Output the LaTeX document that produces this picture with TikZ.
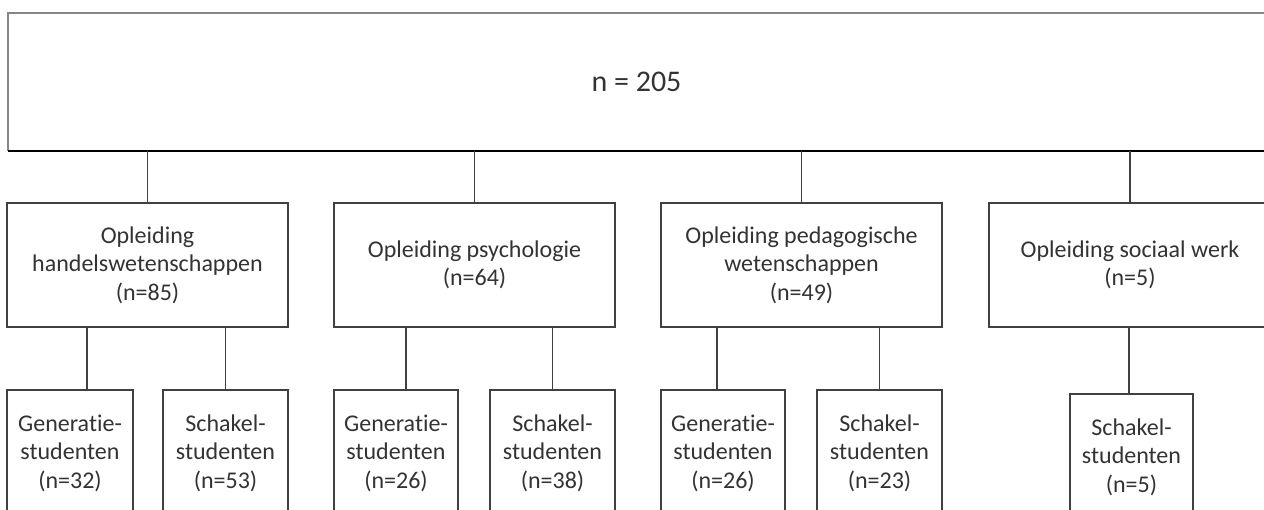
\documentclass[tikz,border=0pt]{standalone}
\usepackage{fontspec}
\setmainfont[Ligatures=NoCommon]{Carlito}
\begin{document}
\begin{tikzpicture}[x=1pt,y=-1pt,
  every node/.style={inner sep=0pt,outer sep=0pt},
  box/.style={draw=boxgray,line width=1.8pt,fill=white,anchor=north west,
    align=center,text=txtgray,font=\fontsize{24}{28.5}\selectfont},
  link/.style={draw=boxgray,line width=1.8pt},
  topedge/.style={draw=gray!95,line width=2.8pt},
]
\definecolor{boxgray}{HTML}{404040}
\definecolor{txtgray}{HTML}{333333}
\useasboundingbox (0,0) rectangle (1264,510);
\fill[white] (0,0) rectangle (1264,510);

% total sample
\node[anchor=north west,minimum width=1257pt,minimum height=138pt,
  text=txtgray,font=\fontsize{30}{36}\selectfont] (top) at (8,13) {n = 205};
\draw[topedge] (top.south west) |- (top.north east);
\draw[black,line width=1.8pt] (top.south west) -- (top.south east);

% programmes
\node[box,minimum width=281pt,minimum height=124pt] (h) at (7,203)
  {Opleiding\\handelswetenschappen\\(n=85)};
\node[box,minimum width=281pt,minimum height=124pt] (p) at (334,203)
  {Opleiding psychologie\\(n=64)};
\node[box,minimum width=281pt,minimum height=124pt] (w) at (661,203)
  {Opleiding pedagogische\\wetenschappen\\(n=49)};
\node[box,minimum width=282pt,minimum height=124pt] (s) at (989,203)
  {Opleiding sociaal werk\\(n=5)};

% student groups
\node[box,minimum width=126pt,minimum height=126pt] (hg) at (7,390)
  {Generatie-\\studenten\\(n=32)};
\node[box,minimum width=125pt,minimum height=126pt] (hs) at (163,390)
  {Schakel-\\studenten\\(n=53)};
\node[box,minimum width=124pt,minimum height=126pt] (pg) at (334,390)
  {Generatie-\\studenten\\(n=26)};
\node[box,minimum width=125pt,minimum height=126pt] (ps) at (490,390)
  {Schakel-\\studenten\\(n=38)};
\node[box,minimum width=124pt,minimum height=126pt] (wg) at (661,390)
  {Generatie-\\studenten\\(n=26)};
\node[box,minimum width=125pt,minimum height=126pt] (ws) at (817,390)
  {Schakel-\\studenten\\(n=23)};
\node[box,minimum width=123pt,minimum height=126pt] (ss) at (1070,394)
  {Schakel-\\studenten\\(n=5)};

% connectors from the total
\draw[link] (top.south -| h.north) -- (h.north);
\draw[link] (top.south -| p.north) -- (p.north);
\draw[link] (top.south -| w.north) -- (w.north);
\draw[link] (top.south -| s.north) -- (s.north);

% connectors to the student groups
\draw[link] (h.south -| 87,0) -- (hg.north -| 87,0);
\draw[link] (h.south -| hs.north) -- (hs.north);
\draw[link] (p.south -| 406,0) -- (pg.north -| 406,0);
\draw[link] (p.south -| ps.north) -- (ps.north);
\draw[link] (w.south -| 717,0) -- (wg.north -| 717,0);
\draw[link] (w.south -| ws.north) -- (ws.north);
\draw[link] (s.south -| 1129,0) -- (ss.north -| 1129,0);
\end{tikzpicture}
\end{document}
